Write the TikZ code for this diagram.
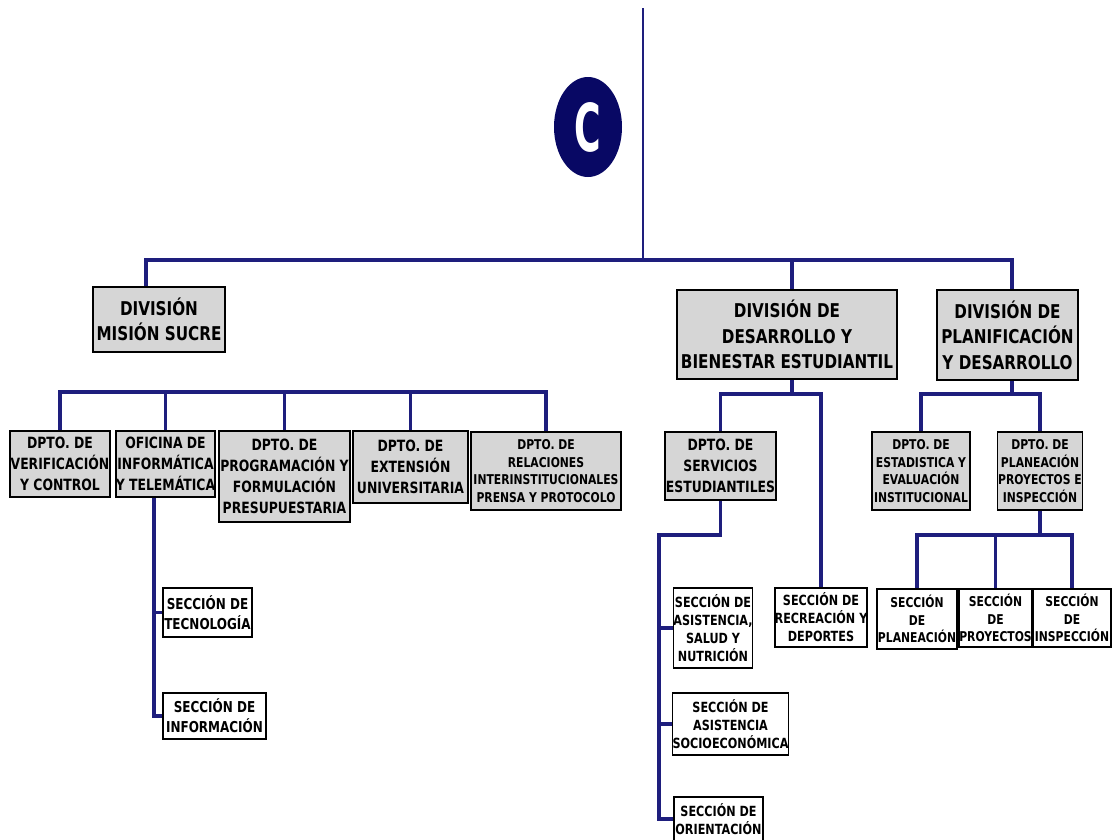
\documentclass[tikz,border=0pt]{standalone}
\usepackage{fontspec}
\setmainfont{DejaVu Sans}[FakeStretch=0.8]
\newfontfamily\logofont{DejaVu Sans}[FakeStretch=0.55]
\usetikzlibrary{shapes.geometric}
\definecolor{navy}{RGB}{30,30,125}
\definecolor{logoblue}{RGB}{8,8,100}
\definecolor{boxgray}{RGB}{214,214,214}
\tikzset{
  link/.style={draw=navy,line width=3.8pt},
  sublink/.style={draw=navy,line width=3.2pt},
  thinlink/.style={draw=navy,line width=2.2pt},
  bx/.style={draw=black,line width=1.8pt,inner sep=0pt,align=center,text=black},
  grayb/.style={bx,fill=boxgray},
  whiteb/.style={bx,fill=white},
  fA/.style={font=\bfseries\fontsize{19}{25.5}\selectfont},
  fB/.style={font=\bfseries\fontsize{15.5}{21}\selectfont},
  fC/.style={font=\bfseries\fontsize{14}{18}\selectfont},
  fE/.style={font=\bfseries\fontsize{15}{20}\selectfont},
  fD/.style={font=\bfseries\fontsize{13.5}{17.5}\selectfont},
}
\begin{document}
\begin{tikzpicture}[x=1pt,y=-1pt]
\fill[white] (0,0) rectangle (1117,839);
\useasboundingbox (0,0) rectangle (1117,839);

% logo
\node[ellipse,fill=logoblue,minimum width=68pt,minimum height=100pt,inner sep=0pt] (logo) at (588,127)
  {\textcolor{white}{\logofont\bfseries\fontsize{66}{66}\selectfont C}};

% level 1
\node[grayb,fA,minimum width=132pt,minimum height=65pt] (ms) at (159,319.5) {DIVISIÓN\\MISIÓN SUCRE};
\node[grayb,fA,minimum width=220pt,minimum height=89pt] (dbe) at (787,334.5) {DIVISIÓN DE\\DESARROLLO Y\\BIENESTAR ESTUDIANTIL};
\node[grayb,fA,minimum width=141pt,minimum height=90pt] (dpd) at (1007.5,335) {DIVISIÓN DE\\PLANIFICACIÓN\\Y DESARROLLO};

% level 2 (Mision Sucre)
\node[grayb,fB,minimum width=100pt,minimum height=66pt] (vc) at (60,464) {DPTO. DE\\VERIFICACIÓN\\Y CONTROL};
\node[grayb,fB,minimum width=99pt,minimum height=66pt] (oit) at (165.5,464) {OFICINA DE\\INFORMÁTICA\\Y TELEMÁTICA};
\node[grayb,fB,minimum width=131pt,minimum height=91pt] (pfp) at (284.5,476.5) {DPTO. DE\\PROGRAMACIÓN Y\\FORMULACIÓN\\PRESUPUESTARIA};
\node[grayb,fB,minimum width=115pt,minimum height=72pt] (eu) at (410.5,467) {DPTO. DE\\EXTENSIÓN\\UNIVERSITARIA};
\node[grayb,fD,minimum width=150pt,minimum height=78pt] (rip) at (546,471) {DPTO. DE\\RELACIONES\\INTERINSTITUCIONALES\\PRENSA Y PROTOCOLO};

% secciones (Oficina)
\node[whiteb,fE,minimum width=89pt,minimum height=49pt] (tec) at (207.5,612.5) {SECCIÓN DE\\TECNOLOGÍA};
\node[whiteb,fE,minimum width=103pt,minimum height=46pt] (inf) at (214.5,716) {SECCIÓN DE\\INFORMACIÓN};

% level 2 (Desarrollo y Bienestar)
\node[grayb,fB,minimum width=111pt,minimum height=68pt] (dse) at (720.5,466) {DPTO. DE\\SERVICIOS\\ESTUDIANTILES};
\node[whiteb,fC,minimum width=78pt,minimum height=80pt] (asn) at (713,628) {SECCIÓN DE\\ASISTENCIA,\\SALUD Y\\NUTRICIÓN};
\node[whiteb,fC,minimum width=113pt,minimum height=62pt] (aso) at (730.5,724) {SECCIÓN DE\\ASISTENCIA\\SOCIOECONÓMICA};
\node[whiteb,fC,minimum width=89pt,minimum height=44pt] (ori) at (718.5,819) {SECCIÓN DE\\ORIENTACIÓN};
\node[whiteb,fC,minimum width=92pt,minimum height=59pt] (rd) at (821,617.5) {SECCIÓN DE\\RECREACIÓN Y\\DEPORTES};

% level 2 (Planificacion)
\node[grayb,fD,minimum width=98pt,minimum height=78pt] (eei) at (921,471) {DPTO. DE\\ESTADISTICA Y\\EVALUACIÓN\\INSTITUCIONAL};
\node[grayb,fD,minimum width=85pt,minimum height=78pt] (ppi) at (1040,471) {DPTO. DE\\PLANEACIÓN\\PROYECTOS E\\INSPECCIÓN};
\node[whiteb,fD,minimum width=80pt,minimum height=60pt] (spl) at (917,619) {SECCIÓN\\DE\\PLANEACIÓN};
\node[whiteb,fD,minimum width=71pt,minimum height=58pt] (spr) at (995.5,618) {SECCIÓN\\DE\\PROYECTOS};
\node[whiteb,fD,minimum width=78pt,minimum height=58pt] (sin) at (1072,618) {SECCIÓN\\DE\\INSPECCIÓN};

% junction coordinates
\coordinate (top) at (643,8);
\coordinate (b1) at (643,260);
\coordinate (b2) at (300,392);
\coordinate (b3) at (800,394);
\coordinate (b4) at (659,535);
\coordinate (msin) at ([xshift=-13pt]ms.north);
\coordinate (dbein) at ([xshift=5pt]dbe.north);
\coordinate (dpdin) at ([xshift=4.5pt]dpd.north);
\coordinate (oitout) at ([xshift=-11.5pt]oit.south);

% connectors
\draw[thinlink] (top) -- (b1);
\draw[link] (msin) |- (b1) -| (dpdin);
\draw[link] (dbein) -- (dbein |- b1);

\draw[link] (vc.north) |- (rip.north |- b2) -- (rip.north);
\draw[link] (oit.north) -- (oit.north |- b2);
\draw[link] (pfp.north) -- (pfp.north |- b2);
\draw[link] (eu.north) -- (eu.north |- b2);

\draw[sublink] (oitout) |- (inf.west);
\draw[sublink] (oitout |- tec.west) -- (tec.west);

\draw[link] (dbein |- dbe.south) -- (dbein |- b3);
\draw[link] (dse.north) |- (rd.north |- b3) -- (rd.north);
\draw[link] (dse.south) |- (b4) |- (ori.west);
\draw[sublink] (b4 |- asn.west) -- (asn.west);
\draw[sublink] (b4 |- aso.west) -- (aso.west);

\draw[link] (dpdin |- dpd.south) -- (dpdin |- b3);
\draw[link] (eei.north) |- (ppi.north |- b3) -- (ppi.north);
\draw[link] (ppi.south) -- (ppi.south |- b4);
\draw[link] (spl.north) |- (sin.north |- b4) -- (sin.north);
\draw[link] (spr.north) -- (spr.north |- b4);
\end{tikzpicture}
\end{document}
